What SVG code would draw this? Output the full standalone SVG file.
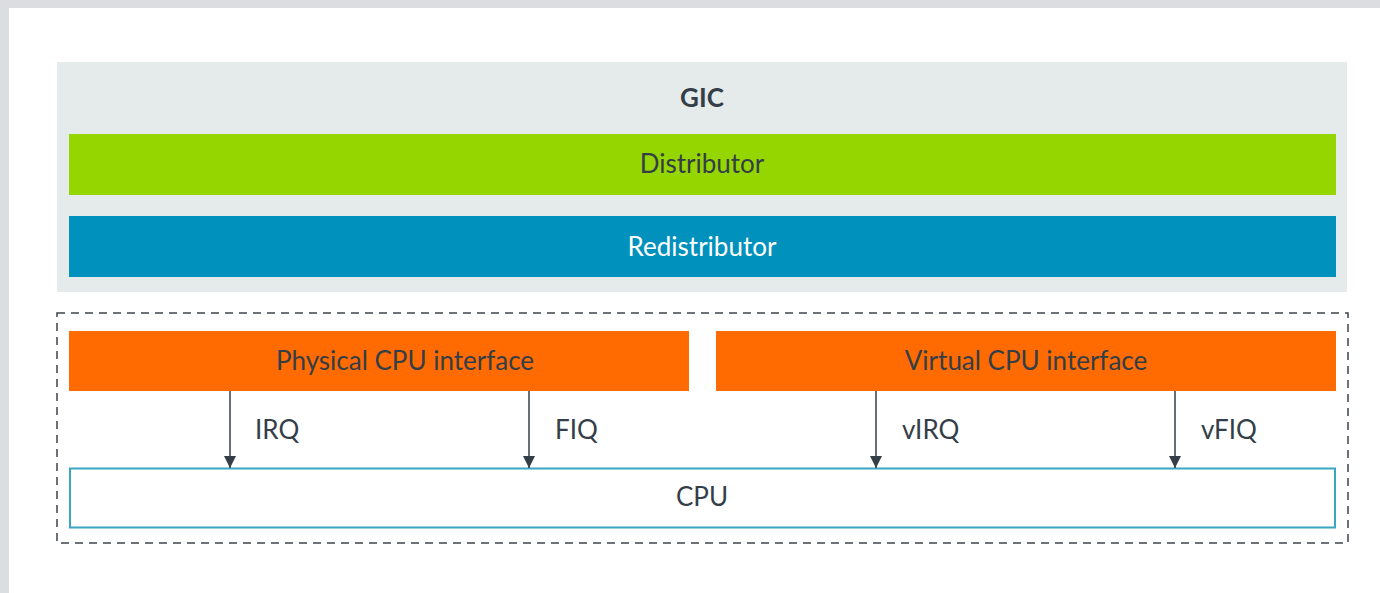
<svg xmlns="http://www.w3.org/2000/svg" width="1380" height="593" viewBox="0 0 1380 593">
  <style>
    .lbl { font-family: Lato, "Open Sans", "Liberation Sans", sans-serif; font-size: 26px; fill: #333e48; text-anchor: middle; }
    .sig { font-family: Lato, "Open Sans", "Liberation Sans", sans-serif; font-size: 26px; fill: #333e48; }
    .wire { stroke: #333e48; stroke-width: 1.5; fill: none; }
  </style>
  <defs>
    <marker id="arrow" viewBox="0 0 12 12" refX="12" refY="6" markerWidth="12" markerHeight="12" markerUnits="userSpaceOnUse" orient="auto">
      <path d="M0,0 L12,6 L0,12 Z" fill="#333e48"/>
    </marker>
  </defs>

  <!-- page frame -->
  <rect x="0" y="0" width="1380" height="593" fill="#dcdde1"/>
  <rect x="9" y="8" width="1371" height="585" fill="#ffffff"/>

  <!-- GIC block -->
  <g id="gic">
    <rect x="57" y="62" width="1290" height="230" fill="#e5eaea"/>
    <text class="lbl" x="702" y="107" font-weight="bold">GIC</text>
  </g>
  <g id="distributor">
    <rect x="69" y="134" width="1267" height="61" fill="#95d600"/>
    <text class="lbl" x="702" y="173">Distributor</text>
  </g>
  <g id="redistributor">
    <rect x="69" y="216" width="1267" height="61" fill="#0091bd"/>
    <text class="lbl" x="702" y="256" style="fill:#ffffff">Redistributor</text>
  </g>

  <!-- CPU interface boundary -->
  <g id="cpu-interface-boundary">
    <rect x="57" y="313" width="1291" height="230" fill="none" stroke="#3c444c" stroke-width="1.5" stroke-dasharray="8 6"/>
  </g>
  <g id="physical-cpu-interface">
    <rect x="69" y="331" width="620" height="60" fill="#ff6b00"/>
    <text class="lbl" x="405" y="370">Physical CPU interface</text>
  </g>
  <g id="virtual-cpu-interface">
    <rect x="716" y="331" width="620" height="60" fill="#ff6b00"/>
    <text class="lbl" x="1026" y="370">Virtual CPU interface</text>
  </g>
  <g id="cpu">
    <rect x="70" y="468.5" width="1265" height="59" fill="#ffffff" stroke="#3aa6c2" stroke-width="2"/>
    <text class="lbl" x="702" y="506">CPU</text>
  </g>

  <!-- interrupt signals -->
  <g id="connectors">
    <line class="wire" x1="230" y1="391" x2="230" y2="468" marker-end="url(#arrow)"/>
    <line class="wire" x1="529" y1="391" x2="529" y2="468" marker-end="url(#arrow)"/>
    <line class="wire" x1="876" y1="391" x2="876" y2="468" marker-end="url(#arrow)"/>
    <line class="wire" x1="1175" y1="391" x2="1175" y2="468" marker-end="url(#arrow)"/>
    <text class="sig" x="255" y="439">IRQ</text>
    <text class="sig" x="555" y="439">FIQ</text>
    <text class="sig" x="902" y="439">vIRQ</text>
    <text class="sig" x="1201" y="439">vFIQ</text>
  </g>
</svg>
